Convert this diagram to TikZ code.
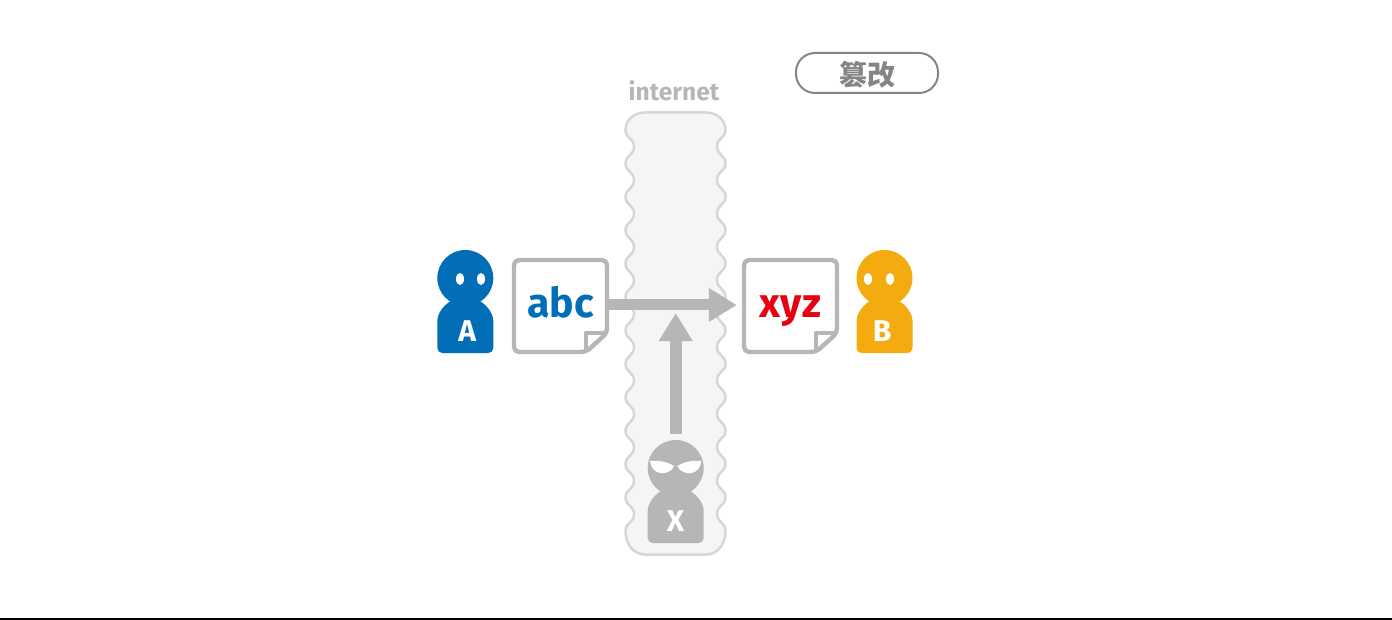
\documentclass[tikz,border=0pt]{standalone}
\usepackage{fontspec}
\setmainfont{Fira Sans}
\newfontfamily\cjk{Noto Sans CJK SC}
\usetikzlibrary{arrows.meta}
\definecolor{blueA}{HTML}{036EB8}
\definecolor{orangeB}{HTML}{F4AB10}
\definecolor{redB}{HTML}{E60012}
\definecolor{grayX}{HTML}{B5B6B5}
\definecolor{tagGray}{HTML}{858585}
\begin{document}
\begin{tikzpicture}[
    x = 1pt, y = -1pt,
    headdot/.style = {circle, minimum size = 56pt, inner sep = 0pt},
    letter/.style = {text = white, font = \fontsize{30}{30}\bfseries},
    docbox/.style = {minimum width = 97pt, minimum height = 97pt, inner sep = 0pt, text height = 24pt, text depth = 0pt, font = \fontsize{41}{41}\bfseries},
    docline/.style = {draw = grayX, line width = 4.4pt, line join = round},
    flow/.style = {draw = grayX, -{Triangle[length = 28pt, width = 32pt]}}]

\useasboundingbox (0,0) rectangle (1392,620);
\fill[black] (0,618) rectangle (1392,620);

% The internet band
\draw[draw = black!16, fill = black!4, line width = 2.5pt] (645,112.5) -- (706,112.5) .. controls (717,112.5) and (725.5,120) .. (725.5,130)
    \foreach \i [evaluate = \i as \w using 130+33.4*\i] in {0,...,11} {
        .. controls (725.5,\w+8) and (717,\w+8) .. (717,\w+16.7) .. controls (717,\w+25) and (725.5,\w+25) .. (725.5,\w+33.4)}
    .. controls (725.5,545) and (717,554.5) .. (706,554.5) -- (645,554.5) .. controls (634,554.5) and (625.5,545) .. (625.5,530.8)
    \foreach \i [evaluate = \i as \w using 530.8-33.4*\i] in {0,...,11} {
        .. controls (625.5,\w-8) and (634,\w-8) .. (634,\w-16.7) .. controls (634,\w-25) and (625.5,\w-25) .. (625.5,\w-33.4)}
    .. controls (625.5,120) and (634,112.5) .. (645,112.5) -- cycle;
\node[text = grayX, font = \fontsize{24.5}{24.5}\bfseries] (netlabel) at (674,90.5) {internet};

\node[draw = tagGray, line width = 2pt, rounded corners = 19pt, minimum width = 142pt, minimum height = 40pt, inner sep = 0pt, text = tagGray, text height = 26pt, text depth = 0pt, font = \cjk\fontsize{28}{28}\bfseries] (tag) at (867,73) {篡改};

% The people
\foreach \name/\hx/\hy/\col/\lx/\lab in {personA/465.3/278/blueA/2/A, personB/884.5/278/orangeB/-2.5/B, personX/675.7/468/grayX/0/X} {
    \node[headdot, fill = \col] (\name) at (\hx,\hy) {};
    \begin{scope}[shift = {(\hx,\hy)}]
    \fill[\col, rounded corners = 5pt] (0,20) .. controls (-15.5,20) and (-28,32.5) .. (-28,48) -- (-28,75) -- (28,75) -- (28,48) .. controls (28,32.5) and (15.5,20) .. (0,20) -- cycle;
    \node[letter] (\name label) at (\lx,53) {\lab};
    \end{scope}
}

\fill[white] (460,279) ellipse (4 and 6);
\fill[white] (481,279) ellipse (4 and 6);
\fill[white] (868,279) ellipse (4 and 6);
\fill[white] (890,279) ellipse (4 and 6);
\fill[white] (650,461) .. controls (658,460) and (668,462) .. (674,466) .. controls (672,472) and (664,474) .. (660,473) .. controls (654,472) and (651,467) .. (650,461) -- cycle;
\fill[white] (701.4,461) .. controls (693.4,460) and (683.4,462) .. (677.4,466) .. controls (679.4,472) and (687.4,474) .. (691.4,473) .. controls (697.4,472) and (700.4,467) .. (701.4,461) -- cycle;

% The documents
\foreach \name/\dx/\col/\txt in {docA/0/blueA/abc, docB/230/redB/xyz} {
    \begin{scope}[xshift = \dx pt]
    \draw[docline, fill = white, rounded corners = 5pt] (514,260) -- (607,260) -- (607,333) -- (586,352) -- (514,352) -- cycle;
    \draw[docline] (586,352) -- (586,333) -- (607,333);
    \node[docbox, text = \col] (\name) at (560.5,305) {\txt};
    \end{scope}
}

% Signals
\coordinate (meet) at (675.7,313);
\draw[flow, line width = 11pt, shorten > = 5pt] (docA.east) -- (docB.west);
\draw[flow, line width = 12pt, shorten < = 6pt] (personX) -- (meet);

\end{tikzpicture}
\end{document}
